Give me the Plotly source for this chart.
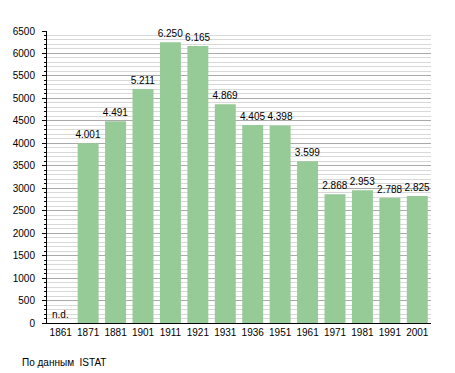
import plotly.graph_objects as go

years = ["1861", "1871", "1881", "1901", "1911", "1921", "1931", "1936", "1951", "1961", "1971", "1981", "1991", "2001"]
population = [None, 4001, 4491, 5211, 6250, 6165, 4869, 4405, 4398, 3599, 2868, 2953, 2788, 2825]
y_ticks = [0, 500, 1000, 1500, 2000, 2500, 3000, 3500, 4000, 4500, 5000, 5500, 6000, 6500]
source_note = "По данным  ISTAT"
missing_label = "n.d."

labels = ["" if v is None else f"{v:,}".replace(",", ".") for v in population]

fig = go.Figure(go.Bar(
    x=years, y=population,
    marker=dict(color="rgb(150,202,150)", line=dict(width=0)),
    text=labels, textposition="outside", cliponaxis=False,
    constraintext="none",
    textfont=dict(size=10, color="black"),
    hoverinfo="skip",
))

fig.add_annotation(x=0, y=0, xref="x", yref="y", text=missing_label,
                   showarrow=False, yanchor="bottom", xanchor="center", yshift=1,
                   font=dict(size=10, color="black"))
fig.add_annotation(x=(20 - 47) / 384, y=-(362 - 323) / 292, xref="paper", yref="paper",
                   text=source_note, showarrow=False, xanchor="left", yanchor="middle",
                   font=dict(size=10, color="black"))

fig.update_layout(
    width=455, height=373,
    margin=dict(l=47, r=24, t=31, b=50),
    paper_bgcolor="white", plot_bgcolor="white",
    font=dict(family="Liberation Sans, Arial, sans-serif", size=10, color="black"),
    bargap=0.236,
    showlegend=False,
    xaxis=dict(type="category", categoryorder="array", categoryarray=years,
               range=[-0.5, len(years) - 0.5], showgrid=False, ticks="",
               showline=True, linecolor="black", linewidth=1,
               tickfont=dict(size=10), zeroline=False),
    yaxis=dict(range=[0, 6500], tickvals=y_ticks, showgrid=True,
               gridcolor="#aaaaaa", gridwidth=1, ticks="outside", ticklen=4,
               tickcolor="black", showline=True, linecolor="black", linewidth=1,
               zeroline=False, tickfont=dict(size=10), ticklabelstandoff=5,
               minor=dict(dtick=100, showgrid=True, gridcolor="#d8d8d8",
                          ticks="outside", ticklen=2, tickcolor="black")),
)

fig.write_html("out.html", config={"displayModeBar": False},
               post_script="document.body.style.margin='0';")
